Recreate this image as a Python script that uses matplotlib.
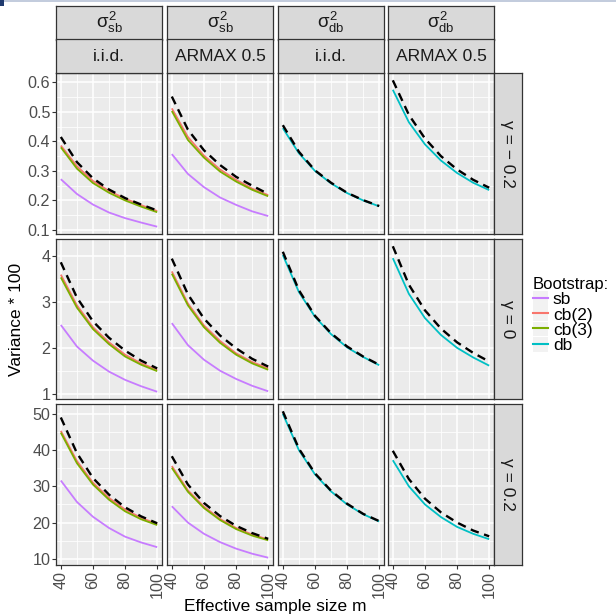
import matplotlib
matplotlib.use("Agg")
import matplotlib.pyplot as plt
from matplotlib.lines import Line2D
from matplotlib.patches import Patch, Rectangle
from matplotlib.ticker import FixedLocator, AutoMinorLocator

plt.rcParams["font.family"] = ["Liberation Sans", "DejaVu Sans"]
plt.rcParams["mathtext.fontset"] = "custom"
plt.rcParams["mathtext.rm"] = "Liberation Sans"
plt.rcParams["mathtext.it"] = "Liberation Sans"

# ── data ──────────────────────────────────────────────────────────────────────
m = [40, 50, 60, 70, 80, 90, 100]

col_top = [r"$\sigma^2_{sb}$", r"$\sigma^2_{sb}$", r"$\sigma^2_{db}$", r"$\sigma^2_{db}$"]
col_sub = ["i.i.d.", "ARMAX 0.5", "i.i.d.", "ARMAX 0.5"]
row_labels = ["γ = − 0.2", "γ = 0", "γ = 0.2"]
row_ticks = [[0.1, 0.2, 0.3, 0.4, 0.5, 0.6], [1, 2, 3, 4], [10, 20, 30, 40, 50]]
row_ticklabels = [["0.1", "0.2", "0.3", "0.4", "0.5", "0.6"],
                  ["1", "2", "3", "4"],
                  ["10", "20", "30", "40", "50"]]
methods = ["sb", "cb(2)", "cb(3)", "db"]
x_ticks = [40, 60, 80, 100]

# gamma = -0.2  (sigma_sb panels: i.i.d., ARMAX / sigma_db panels: i.i.d., ARMAX)
sb_neg = [[0.272, 0.222, 0.186, 0.159, 0.140, 0.125, 0.111],
          [0.357, 0.290, 0.245, 0.210, 0.185, 0.163, 0.147]]
cb2_neg = [[0.386, 0.316, 0.266, 0.232, 0.206, 0.184, 0.164],
           [0.512, 0.415, 0.352, 0.305, 0.270, 0.240, 0.218]]
cb3_neg = [[0.380, 0.308, 0.259, 0.226, 0.200, 0.179, 0.160],
           [0.503, 0.405, 0.345, 0.298, 0.264, 0.236, 0.214]]
db_neg = [[0.445, 0.360, 0.300, 0.258, 0.225, 0.200, 0.180],
          [0.575, 0.465, 0.390, 0.335, 0.293, 0.260, 0.235]]
true_neg = [[0.415, 0.330, 0.275, 0.237, 0.208, 0.186, 0.166],
            [0.552, 0.440, 0.370, 0.320, 0.280, 0.250, 0.222],
            [0.455, 0.365, 0.302, 0.260, 0.226, 0.201, 0.181],
            [0.607, 0.490, 0.410, 0.350, 0.305, 0.270, 0.243]]

# gamma = 0
sb_zero = [[2.50, 2.03, 1.72, 1.48, 1.30, 1.16, 1.04],
           [2.54, 2.06, 1.74, 1.50, 1.32, 1.17, 1.05]]
cb2_zero = [[3.60, 2.93, 2.45, 2.12, 1.85, 1.66, 1.52],
            [3.67, 2.97, 2.49, 2.15, 1.88, 1.69, 1.55]]
cb3_zero = [[3.54, 2.88, 2.41, 2.08, 1.81, 1.63, 1.49],
            [3.62, 2.93, 2.45, 2.11, 1.85, 1.66, 1.52]]
db_zero = [[4.03, 3.22, 2.68, 2.30, 2.01, 1.80, 1.62],
           [3.96, 3.18, 2.65, 2.28, 2.00, 1.79, 1.61]]
true_zero = [[3.87, 3.10, 2.58, 2.22, 1.94, 1.72, 1.55],
             [3.95, 3.17, 2.64, 2.27, 1.99, 1.76, 1.59],
             [4.10, 3.26, 2.70, 2.32, 2.03, 1.81, 1.63],
             [4.22, 3.38, 2.82, 2.42, 2.12, 1.89, 1.70]]

# gamma = 0.2
sb_pos = [[31.6, 25.7, 21.6, 18.5, 16.1, 14.5, 13.2],
          [24.5, 20.0, 16.9, 14.6, 12.8, 11.4, 10.3]]
cb2_pos = [[45.3, 37.0, 31.0, 26.8, 23.6, 21.3, 19.6],
           [35.6, 28.9, 24.4, 21.0, 18.5, 16.7, 15.3]]
cb3_pos = [[44.8, 36.4, 30.5, 26.3, 23.1, 20.9, 19.3],
           [35.1, 28.5, 24.0, 20.7, 18.2, 16.4, 15.1]]
db_pos = [[50.0, 40.0, 33.3, 28.6, 25.0, 22.3, 20.3],
          [37.2, 30.0, 25.0, 21.5, 18.8, 16.9, 15.4]]
true_pos = [[49.0, 39.2, 32.3, 27.7, 24.2, 21.7, 19.8],
            [38.3, 30.5, 25.4, 21.8, 19.1, 17.1, 15.5],
            [50.7, 40.4, 33.6, 28.8, 25.2, 22.4, 20.4],
            [39.8, 32.0, 26.6, 22.8, 20.0, 17.8, 16.2]]

rows = [(sb_neg, cb2_neg, cb3_neg, db_neg, true_neg),
        (sb_zero, cb2_zero, cb3_zero, db_zero, true_zero),
        (sb_pos, cb2_pos, cb3_pos, db_pos, true_pos)]

# ── style ─────────────────────────────────────────────────────────────────────
C_SB, C_CB2, C_CB3, C_DB = "#C77CFF", "#F8766D", "#7CAE00", "#00BFC4"
COLORS = [C_SB, C_CB2, C_CB3, C_DB]
PANEL_BG = "#EBEBEB"
STRIP_BG = "#D9D9D9"
BORDER = "#333333"
TICK_TXT = "#4D4D4D"
LW = 1.3

W, H = 616, 616
COL_X = [(56, 162), (167, 273), (278, 384), (388, 494)]
ROW_Y = [(73, 234), (239, 399), (404, 565)]
STRIP_Y = [(6, 39.5), (39.5, 73)]
RSTRIP_X = (494, 522)

fig = plt.figure(figsize=(W / 100, H / 100), dpi=100)
fig.patch.set_facecolor("white")


def frac(x0, y0, x1, y1):
    return [x0 / W, 1 - y1 / H, (x1 - x0) / W, (y1 - y0) / H]


def strip(x0, y0, x1, y1, text, rotation=0, size=12.5):
    sa = fig.add_axes(frac(x0, y0, x1, y1))
    sa.set_facecolor(STRIP_BG)
    sa.set_xticks([])
    sa.set_yticks([])
    for s in sa.spines.values():
        s.set_color(BORDER)
        s.set_linewidth(0.9)
    sa.text(0.5, 0.5, text, ha="center", va="center", rotation=rotation,
            fontsize=size, color="#1A1A1A", transform=sa.transAxes)
    return sa


# ── panels ────────────────────────────────────────────────────────────────────
for r, (y0, y1) in enumerate(ROW_Y):
    sb, cb2, cb3, db, tru = rows[r]
    row_axes = []
    for c, (x0, x1) in enumerate(COL_X):
        ax = fig.add_axes(frac(x0, y0, x1, y1),
                          sharey=row_axes[0] if row_axes else None)
        row_axes.append(ax)
        ax.set_facecolor(PANEL_BG)
        ax.set_axisbelow(True)
        if c < 2:
            ax.plot(m, sb[c], color=C_SB, lw=LW, solid_capstyle="butt")
            ax.plot(m, cb2[c], color=C_CB2, lw=LW, solid_capstyle="butt")
            ax.plot(m, cb3[c], color=C_CB3, lw=LW, solid_capstyle="butt")
        else:
            ax.plot(m, db[c - 2], color=C_DB, lw=LW, solid_capstyle="butt")
        ax.plot(m, tru[c], color="black", lw=1.7, dashes=(3.6, 2.4),
                dash_capstyle="butt")
        ax.margins(x=0.05, y=0.05)

        ax.xaxis.set_major_locator(FixedLocator(x_ticks))
        ax.xaxis.set_minor_locator(AutoMinorLocator(2))
        ax.yaxis.set_major_locator(FixedLocator(row_ticks[r]))
        ax.yaxis.set_minor_locator(AutoMinorLocator(2))
        ax.grid(which="major", color="white", lw=1.1)
        ax.grid(which="minor", color="white", lw=0.55)
        for s in ax.spines.values():
            s.set_color(BORDER)
            s.set_linewidth(0.9)
        ax.tick_params(which="minor", length=0)
        ax.tick_params(which="major", length=2.6, width=0.8, color=BORDER,
                       labelsize=11.6, labelcolor=TICK_TXT, pad=1.5)
        if c == 0:
            ax.set_yticks(row_ticks[r], row_ticklabels[r])
        else:
            ax.tick_params(axis="y", left=False, labelleft=False)
        if r == 2:
            ax.set_xticks(x_ticks, [str(v) for v in x_ticks])
            for lab in ax.get_xticklabels():
                lab.set_rotation(90)
                lab.set_va("top")
                lab.set_ha("center")
        else:
            ax.tick_params(axis="x", bottom=False, labelbottom=False)

    strip(RSTRIP_X[0], y0, RSTRIP_X[1], y1, row_labels[r], rotation=-90)

for c, (x0, x1) in enumerate(COL_X):
    strip(x0, STRIP_Y[0][0], x1, STRIP_Y[0][1], col_top[c], size=13.5)
    strip(x0, STRIP_Y[1][0], x1, STRIP_Y[1][1], col_sub[c])

# ── axis titles ───────────────────────────────────────────────────────────────
fig.text(275 / W, 1 - 606 / H, "Effective sample size m", ha="center",
         va="center", fontsize=12.5)
fig.text(17 / W, 1 - 319 / H, "Variance * 100", ha="center", va="center",
         rotation=90, fontsize=12.5)

# ── legend ────────────────────────────────────────────────────────────────────
handles = [(Patch(facecolor="#F2F2F2", edgecolor="none"),
            Line2D([], [], color=col, lw=1.5)) for col in COLORS]
leg = fig.legend(handles, methods, title="Bootstrap:", loc="upper left",
                 bbox_to_anchor=(533 / W, 1 - 277 / H), frameon=False,
                 fontsize=12.5, title_fontsize=12, handlelength=0.85,
                 handleheight=0.9, handletextpad=0.3, labelspacing=-0.05,
                 borderpad=0.0, borderaxespad=0.0)
leg._legend_box.align = "left"

# ── screenshot edge ───────────────────────────────────────────────────────────
fig.patches.append(Rectangle((0, 1 - 2 / H), 1, 2 / H, transform=fig.transFigure,
                             facecolor="#C3CCDD", edgecolor="none"))
fig.patches.append(Rectangle((0, 1 - 6 / H), 4 / W, 6 / H,
                             transform=fig.transFigure, facecolor="#1F3A6E",
                             edgecolor="none"))

fig.savefig("out.png", dpi=100, facecolor="white")
